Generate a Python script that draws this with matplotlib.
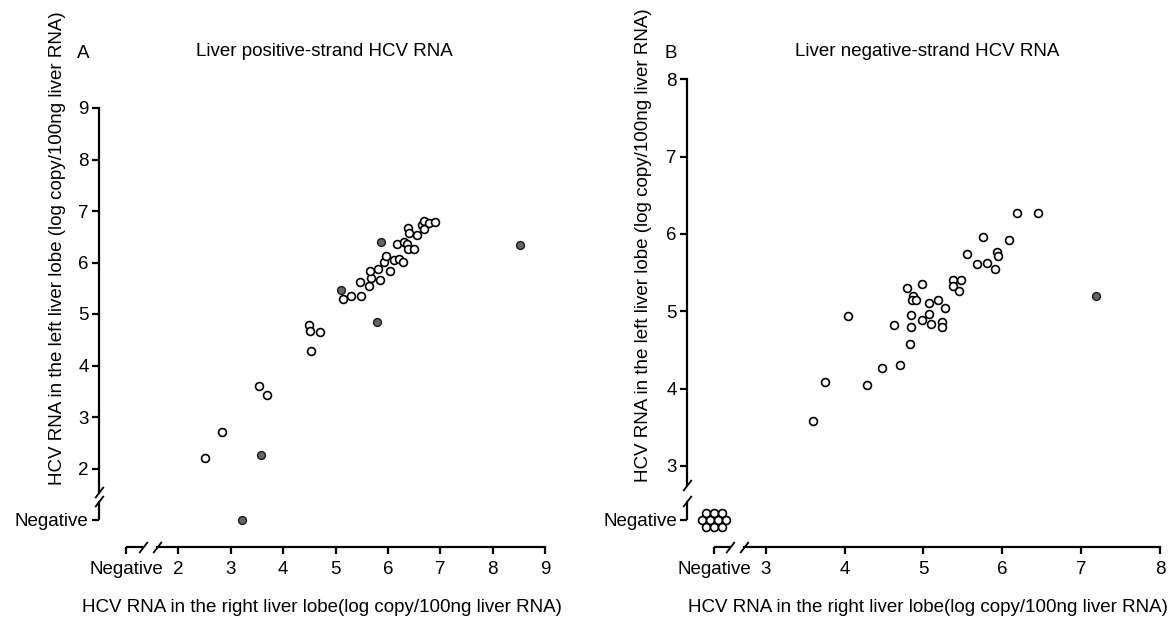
import matplotlib
matplotlib.use("Agg")
import matplotlib.pyplot as plt
from matplotlib.transforms import blended_transform_factory, offset_copy


plt.rcParams["font.family"] = ["Liberation Sans", "DejaVu Sans"]

W, H, DPI = 1174, 617, 100

# ---- panel A: liver positive-strand HCV RNA ----
NEG_A = 1.0  # axis position used for "Negative"
a_open_x = [2.50, 2.84, 3.53, 3.69, 4.49, 4.51, 4.70, 4.54, 5.15, 5.29, 5.48, 5.46,
            5.64, 5.67, 5.65, 5.82, 5.85, 6.04, 5.92, 5.97, 6.11, 6.21, 6.28, 6.18,
            6.31, 6.36, 6.38, 6.50, 6.38, 6.41, 6.55, 6.66, 6.69, 6.69, 6.78, 6.90]
a_open_y = [2.21, 2.71, 3.61, 3.42, 4.79, 4.67, 4.65, 4.29, 5.29, 5.35, 5.35, 5.62,
            5.55, 5.69, 5.84, 5.87, 5.66, 5.84, 6.01, 6.12, 6.04, 6.07, 6.01, 6.36,
            6.39, 6.36, 6.27, 6.27, 6.67, 6.57, 6.54, 6.73, 6.81, 6.65, 6.77, 6.79]
a_fill_x = [3.22, 3.57, 5.11, 5.87, 5.80, 8.53]
a_fill_y = [NEG_A, 2.27, 5.47, 6.40, 4.85, 6.34]
a_xticks = [NEG_A, 2, 3, 4, 5, 6, 7, 8, 9]
a_xlabels = ["Negative", "2", "3", "4", "5", "6", "7", "8", "9"]
a_yticks = [NEG_A, 2, 3, 4, 5, 6, 7, 8, 9]
a_ylabels = ["Negative", "2", "3", "4", "5", "6", "7", "8", "9"]

# ---- panel B: liver negative-strand HCV RNA ----
NEG_BX = 2.35
NEG_BY = 2.3
b_open_x = [3.60, 3.75, 4.28, 4.05, 4.48, 4.70, 4.63, 4.83, 4.84, 4.84, 4.79, 4.87,
            4.85, 4.90, 4.98, 4.98, 5.07, 5.07, 5.10, 5.19, 5.23, 5.23, 5.27, 5.37,
            5.38, 5.47, 5.45, 5.55, 5.68, 5.75, 5.81, 5.91, 5.93, 5.94, 6.08, 6.18, 6.45]
b_open_y = [3.58, 4.08, 4.04, 4.94, 4.27, 4.30, 4.82, 4.57, 4.79, 4.95, 5.30, 5.20,
            5.14, 5.14, 5.35, 4.89, 5.11, 4.97, 4.84, 5.15, 4.86, 4.79, 5.04, 5.41,
            5.33, 5.41, 5.26, 5.74, 5.61, 5.96, 5.62, 5.54, 5.77, 5.72, 5.92, 6.27, 6.27]
b_fill_x = [7.18]
b_fill_y = [5.20]
b_neg_both = 10  # negative in both lobes
b_xticks = [NEG_BX, 3, 4, 5, 6, 7, 8]
b_xlabels = ["Negative", "3", "4", "5", "6", "7", "8"]
b_yticks = [NEG_BY, 3, 4, 5, 6, 7, 8]
b_ylabels = ["Negative", "3", "4", "5", "6", "7", "8"]

XLABEL = "HCV RNA in the right liver lobe(log copy/100ng liver RNA)"
YLABEL = "HCV RNA in the left liver lobe (log copy/100ng liver RNA)"

FS = 13.5
LW = 1.6
OFF = 27  # spine offset in pixels


def px_to_fig(x, y):
    return x / W, 1 - y / H


def make_panel(fig, box, xlim, ylim, xbreak, ybreak):
    x0, x1, ytop, ybot = box
    ax = fig.add_axes([x0 / W, 1 - ybot / H, (x1 - x0) / W, (ybot - ytop) / H])
    ax.set_xlim(*xlim)
    ax.set_ylim(*ylim)
    ax.patch.set_alpha(0)
    for side in ("top", "right"):
        ax.spines[side].set_visible(False)
    for side in ("left", "bottom"):
        ax.spines[side].set_position(("outward", OFF * 72 / DPI))
        ax.spines[side].set_linewidth(LW)
    ax.spines["left"].set_bounds(ybreak[1], ylim[1])
    ax.spines["bottom"].set_bounds(xbreak[1], xlim[1])
    ax.tick_params(direction="out", length=5, width=LW, labelsize=FS)
    ax.tick_params(axis="x", pad=5)
    ax.tick_params(axis="y", pad=2.5)

    # lower pieces of the broken axes + break marks
    ty = offset_copy(blended_transform_factory(ax.transAxes, ax.transData),
                     fig=fig, x=-OFF, y=0, units="dots")
    tx = offset_copy(blended_transform_factory(ax.transData, ax.transAxes),
                     fig=fig, x=0, y=-OFF, units="dots")
    ax.plot([0, 0], [ylim[0], ybreak[0]], color="black", lw=LW,
            transform=ty, clip_on=False, solid_capstyle="butt")
    ax.plot([xlim[0], xbreak[0]], [0, 0], color="black", lw=LW,
            transform=tx, clip_on=False, solid_capstyle="butt")
    mark = [(-1, -1.3), (1, 1.3)]
    ax.plot([0, 0], list(ybreak), ls="none", marker=mark, ms=8, mew=1.3,
            color="black", transform=ty, clip_on=False)
    ax.plot(list(xbreak), [0, 0], ls="none", marker=mark, ms=8, mew=1.3,
            color="black", transform=tx, clip_on=False)
    return ax


def draw_points(ax, ox, oy, fx, fy):
    ax.scatter(ox, oy, s=32, facecolors="white", edgecolors="black",
               linewidths=1.2, clip_on=False, zorder=3)
    ax.scatter(fx, fy, s=32, facecolors="#666666", edgecolors="#1a1a1a",
               linewidths=1.0, clip_on=False, zorder=4)


def hex_cluster(ax, n, cx, cy, box, xlim, ylim):
    # spread coincident points in a small honeycomb so each one shows
    x0, x1, ytop, ybot = box
    ux = (x1 - x0) / (xlim[1] - xlim[0])
    uy = (ybot - ytop) / (ylim[1] - ylim[0])
    rows = [3, 4, 3]
    xs, ys = [], []
    k = 0
    for r, cnt in enumerate(rows):
        for c in range(cnt):
            if k >= n:
                break
            dx = (c - (cnt - 1) / 2) * 8.0
            dy = (1 - r) * 6.8
            xs.append(cx + dx / ux)
            ys.append(cy + dy / uy)
            k += 1
    ax.scatter(xs, ys, s=32, facecolors="white", edgecolors="black",
               linewidths=1.2, clip_on=False, zorder=3)


fig = plt.figure(figsize=(W / DPI, H / DPI), dpi=DPI)

# panel A
box_a = (126, 545, 108, 520)
lim_ax, lim_ay = (NEG_A, 9), (NEG_A, 9)
ax_a = make_panel(fig, box_a, lim_ax, lim_ay, xbreak=(1.32, 1.59), ybreak=(1.36, 1.55))
ax_a.set_xticks(a_xticks, a_xlabels)
ax_a.set_yticks(a_yticks, a_ylabels)
draw_points(ax_a, a_open_x, a_open_y, a_fill_x, a_fill_y)

# panel B
box_b = (714.3, 1160.3, 79.3, 520)
lim_bx, lim_by = (NEG_BX, 8), (NEG_BY, 8)
ax_b = make_panel(fig, box_b, lim_bx, lim_by, xbreak=(2.55, 2.72), ybreak=(2.55, 2.75))
ax_b.set_xticks(b_xticks, b_xlabels)
ax_b.set_yticks(b_yticks, b_ylabels)
draw_points(ax_b, b_open_x, b_open_y, b_fill_x, b_fill_y)
hex_cluster(ax_b, b_neg_both, NEG_BX, NEG_BY, box_b, lim_bx, lim_by)

# texts
fig.text(*px_to_fig(83, 53), "A", fontsize=FS, ha="center", va="center")
fig.text(*px_to_fig(324, 52), "Liver positive-strand HCV RNA", fontsize=FS, ha="center", va="center")
fig.text(*px_to_fig(671, 53), "B", fontsize=FS, ha="center", va="center")
fig.text(*px_to_fig(927, 52), "Liver negative-strand HCV RNA", fontsize=FS, ha="center", va="center")
fig.text(*px_to_fig(322, 607), XLABEL, fontsize=FS, ha="center", va="center")
fig.text(*px_to_fig(928, 607), XLABEL, fontsize=FS, ha="center", va="center")
fig.text(*px_to_fig(57, 248), YLABEL, fontsize=FS, ha="center", va="center", rotation=90)
fig.text(*px_to_fig(644, 245), YLABEL, fontsize=FS, ha="center", va="center", rotation=90)

fig.savefig("out.png", dpi=DPI)
